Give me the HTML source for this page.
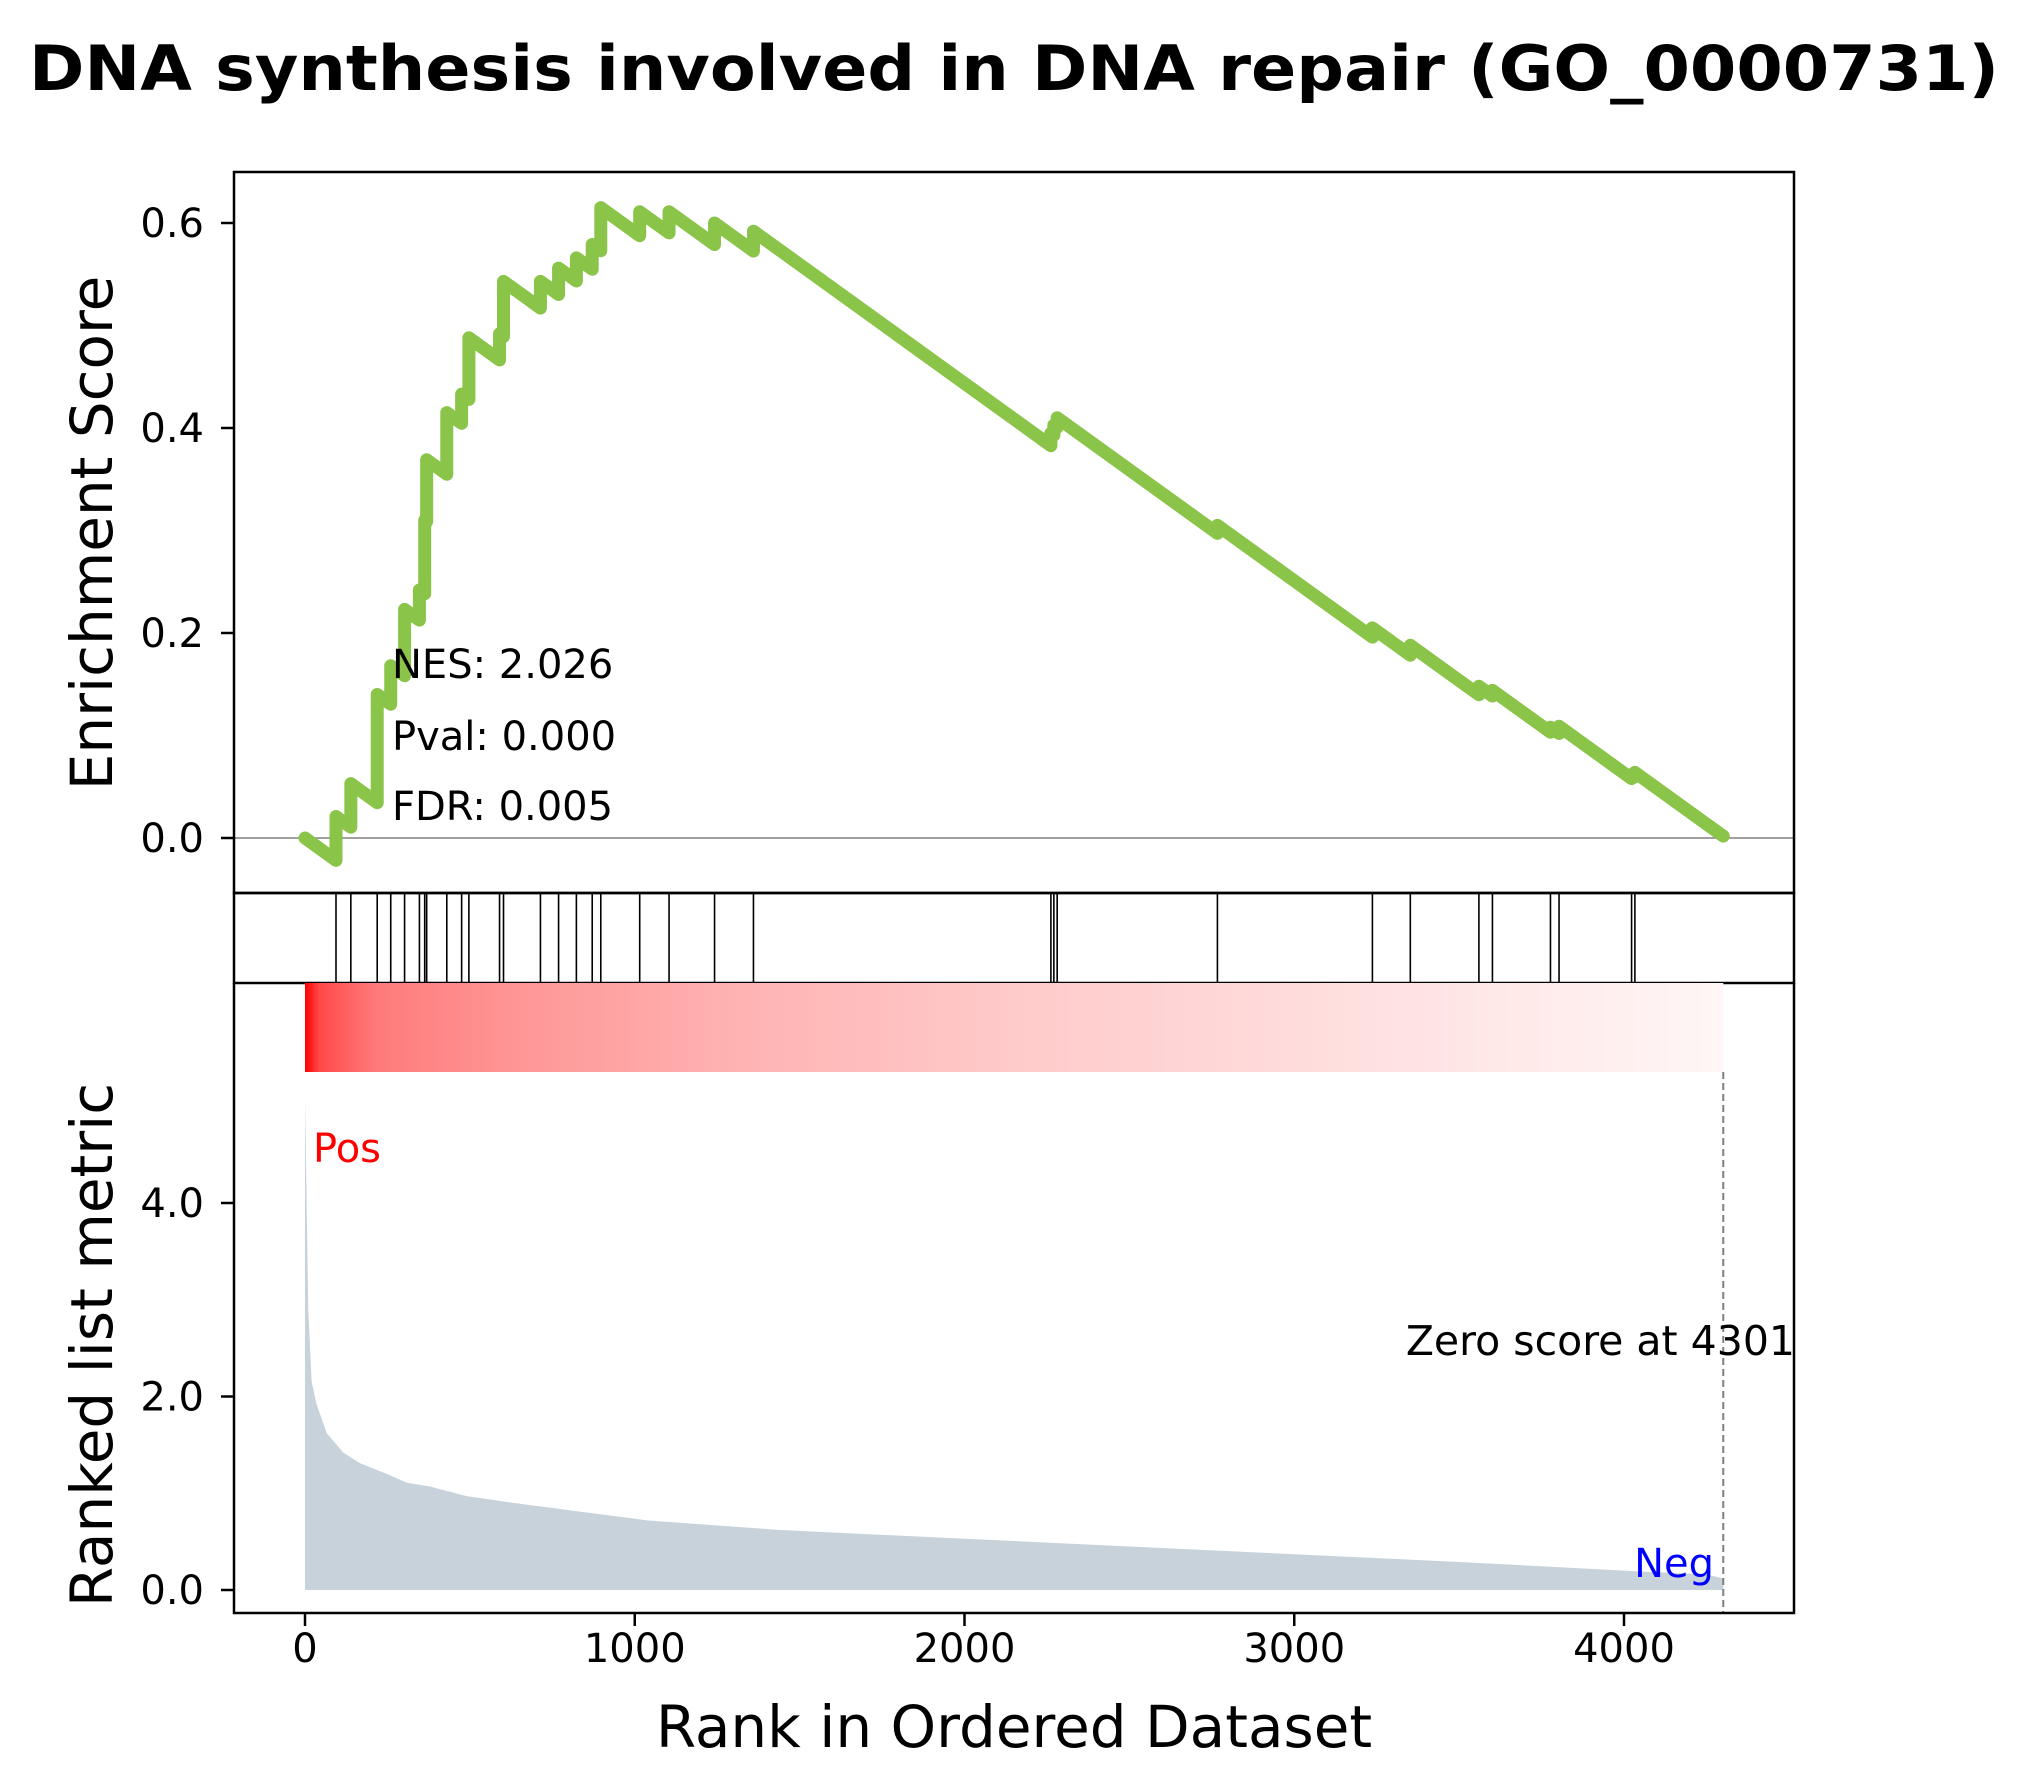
<!DOCTYPE html>
<html><head><meta charset="utf-8"><style>
html,body{margin:0;padding:0;background:#fff;}
svg{display:block;font-family:"DejaVu Sans","Liberation Sans",sans-serif;}
</style></head><body>
<svg id="chart" width="2028" height="1788" viewBox="0 0 2028 1788" xmlns="http://www.w3.org/2000/svg">
<defs>
<linearGradient id="heat" x1="0" x2="1" y1="0" y2="0">
<stop offset="0" stop-color="#ff0000"/><stop offset="0.01" stop-color="#ff4848"/><stop offset="0.05" stop-color="#ff7a7a"/><stop offset="0.15" stop-color="#ff9696"/><stop offset="0.3" stop-color="#ffb2b2"/><stop offset="0.5" stop-color="#ffcaca"/><stop offset="0.75" stop-color="#ffe0e0"/><stop offset="1" stop-color="#fff6f6"/>
</linearGradient>
</defs>
<text x="1014" y="90" text-anchor="middle" font-weight="bold" font-size="62" textLength="1970" lengthAdjust="spacingAndGlyphs">DNA synthesis involved in DNA repair (GO_0000731)</text>
<g id="es-panel"></g>
<g id="hit-panel"></g>
<g id="rank-panel"></g>
</svg>
<script>
// ---- data ----
const hitRanks = [94,139,219,260,302,347,363,369,430,475,497,590,602,714,769,823,871,897,1015,1104,1242,1360,2262,2271,2281,2767,3237,3352,3560,3601,3777,3803,4023,4033];
const esAfterHit = [0.021,0.053,0.14,0.168,0.223,0.242,0.31,0.369,0.415,0.433,0.488,0.492,0.543,0.543,0.556,0.566,0.579,0.615,0.611,0.611,0.600,0.592,0.395,0.403,0.41,0.305,0.205,0.188,0.148,0.144,0.108,0.109,0.062,0.064];
const esDropPerMiss = 0.000232;
const totalGenes = 4301;
const metricRanks = [0,10,20,35,66,116,167,248,308,379,490,632,834,1037,1441,2000,2500,3000,3500,4000,4250,4301];
const metricValues = [5.09,2.89,2.16,1.92,1.62,1.42,1.31,1.20,1.11,1.07,0.97,0.90,0.81,0.72,0.62,0.53,0.45,0.37,0.29,0.20,0.16,0.12];
const esTicks = [0.0,0.2,0.4,0.6];
const esTickLabels = ["0.0","0.2","0.4","0.6"];
const metricTicks = [0,2,4];
const metricTickLabels = ["0.0","2.0","4.0"];
const xTicks = [0,1000,2000,3000,4000];
const xTickLabels = ["0","1000","2000","3000","4000"];

// ---- layout ----
const L=234,R=1794,T1=172,B1=893,B2=983,HB=1072,B3=1613;
const X = r => 305 + r*0.32975;
const YES = v => 838 - v*1025;
const YM = v => 1590 - v*96.75;
const NS="http://www.w3.org/2000/svg";
function mk(parent,tag,attrs,text){const e=document.createElementNS(NS,tag);for(const k in attrs)e.setAttribute(k,attrs[k]);if(text!==undefined)e.textContent=text;parent.appendChild(e);return e;}
const esP=document.getElementById('es-panel'),hP=document.getElementById('hit-panel'),rP=document.getElementById('rank-panel');

// ES panel
let zl=mk(esP,'line',{x1:L,x2:R,y1:YES(0),y2:YES(0),stroke:'#808080','stroke-width':1.5});


let pts=[[X(0),YES(0)]];let cur=0,prev=0;
hitRanks.forEach((r,i)=>{cur=cur-(r-prev)*esDropPerMiss;pts.push([X(r),YES(cur)]);cur=esAfterHit[i];pts.push([X(r),YES(cur)]);prev=r;});
cur=cur-(totalGenes-prev)*esDropPerMiss;pts.push([X(totalGenes),YES(cur)]);
let esl=mk(esP,'polyline',{points:pts.map(p=>p.join(',')).join(' '),fill:'none',stroke:'#8ac449','stroke-width':13,'stroke-linejoin':'round','stroke-linecap':'round'});


esTicks.forEach((v,i)=>{
  let t=mk(esP,'line',{x1:L-13,x2:L,y1:YES(v),y2:YES(v),stroke:'#000','stroke-width':2.5});
  
  
  let tl=mk(esP,'text',{x:L-30,y:YES(v)+14,'text-anchor':'end','font-size':40},esTickLabels[i]);
  
  
});
let f1=mk(esP,'rect',{x:L,y:T1,width:R-L,height:B1-T1,fill:'none',stroke:'#000','stroke-width':2.5});


[["NES: 2.026",678,'nes-label'],["Pval: 0.000",750,'pval-label'],["FDR: 0.005",820,'fdr-label']].forEach(a=>{
  let t=mk(esP,'text',{x:392,y:a[1],'font-size':40},a[0]);
  
  
});
let yl1=mk(esP,'text',{x:0,y:0,'font-size':58,'text-anchor':'middle',transform:'translate(112,533) rotate(-90)'},'Enrichment Score');



// hit panel
hitRanks.forEach(r=>{
  let h=mk(hP,'line',{x1:X(r),x2:X(r),y1:B1,y2:B2,stroke:'#000','stroke-width':1.6});
  
  
});
let f2=mk(hP,'rect',{x:L,y:B1,width:R-L,height:B2-B1,fill:'none',stroke:'#000','stroke-width':2.5});



// rank panel
let hm=mk(rP,'rect',{x:X(0),y:B2,width:X(totalGenes)-X(0),height:HB-B2,fill:'url(#heat)'});


let mp=metricRanks.map((r,i)=>X(r)+','+YM(metricValues[i]));
let area=mk(rP,'polygon',{points:X(0)+','+YM(0)+' '+mp.join(' ')+' '+X(totalGenes)+','+YM(0),fill:'#c8d2da'});


let zd=mk(rP,'line',{x1:X(totalGenes),x2:X(totalGenes),y1:HB,y2:B3,stroke:'#808080','stroke-width':2,'stroke-dasharray':'7,4'});


let zt=mk(rP,'text',{x:1795,y:1355,'text-anchor':'end','font-size':41},'Zero score at 4301');


let pt=mk(rP,'text',{x:313,y:1162,'font-size':40,fill:'#ff0000'},'Pos');


let nt=mk(rP,'text',{x:1714,y:1577,'font-size':40,fill:'#0000ff','text-anchor':'end'},'Neg');


metricTicks.forEach((v,i)=>{
  let t=mk(rP,'line',{x1:L-13,x2:L,y1:YM(v),y2:YM(v),stroke:'#000','stroke-width':2.5});
  
  
  let tl=mk(rP,'text',{x:L-30,y:YM(v)+14,'text-anchor':'end','font-size':40},metricTickLabels[i]);
  
  
});
xTicks.forEach((v,i)=>{
  let t=mk(rP,'line',{x1:X(v),x2:X(v),y1:B3,y2:B3+13,stroke:'#000','stroke-width':2.5});
  
  
  let tl=mk(rP,'text',{x:X(v),y:1662,'text-anchor':'middle','font-size':40},xTickLabels[i]);
  
  
});
let f3=mk(rP,'polyline',{points:`${L},${B2} ${L},${B3} ${R},${B3} ${R},${B2}`,fill:'none',stroke:'#000','stroke-width':2.5});


let yl2=mk(rP,'text',{x:0,y:0,'font-size':58,'text-anchor':'middle',transform:'translate(112,1345) rotate(-90)'},'Ranked list metric');


let xl=mk(rP,'text',{x:1014,y:1747,'font-size':58,'text-anchor':'middle'},'Rank in Ordered Dataset');


</script>
</body></html>
